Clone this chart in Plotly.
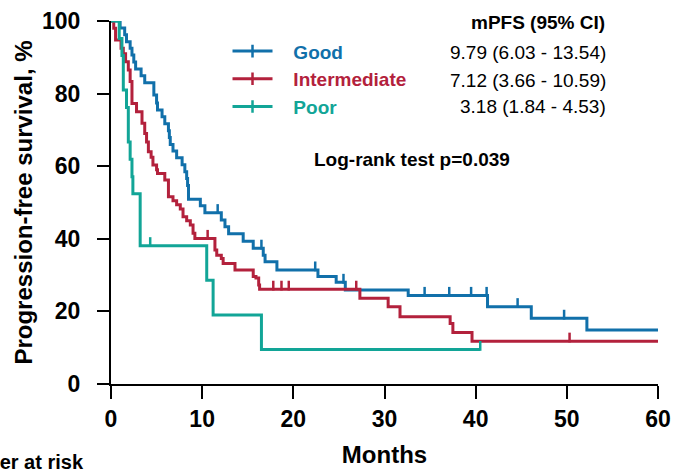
import numpy as np
import plotly.graph_objects as go

# ---------------- data ----------------
good_t = [0, 1.0, 1.5, 1.7, 2.1, 2.3, 2.5, 2.7, 3.3, 3.7, 4.7, 5.0, 5.1, 5.6, 5.9, 6.3, 6.4, 6.5,
          6.8, 7.2, 7.8, 8.1, 8.3, 8.4, 8.5, 9.8, 10.3, 12.1, 12.5, 12.9, 14.5, 15.6, 16.7, 16.9,
          18.2, 22.7, 24.7, 25.7, 32.6, 41.3, 46.1, 52.2, 60]
good_s = [100, 98.1, 96.2, 94.3, 92.5, 90.6, 88.7, 86.8, 84.9, 83.0, 79.6, 77.4, 75.5, 73.6,
          71.7, 69.8, 67.9, 66.0, 64.2, 62.3, 60.4, 58.5, 56.6, 54.7, 50.9, 49.1, 47.2, 45.2,
          43.3, 41.4, 39.3, 37.4, 35.5, 33.7, 31.4, 29.6, 28.0, 25.9, 24.4, 21.3, 18.1, 14.9, 14.9]
good_cens = [11.7, 16.5, 22.4, 25.5, 34.4, 37.1, 39.5, 41.2, 44.6, 49.7]

inter_t = [0, 0.3, 0.5, 1.1, 1.35, 1.6, 1.9, 2.1, 2.3, 2.8, 3.4, 3.7, 3.9, 4.1, 4.4, 4.6, 5.0,
           5.1, 5.9, 6.3, 6.8, 7.2, 7.6, 7.9, 8.3, 8.7, 9.0, 9.2, 11.4, 11.6, 12.1, 12.3, 13.6,
           15.6, 15.9, 16.2, 16.3, 27.3, 30.4, 31.7, 37.2, 37.5, 39.6, 60]
inter_s = [100, 98.0, 94.8, 92.5, 91.0, 88.8, 86.5, 83.3, 77.3, 75.0, 71.8, 69.0, 66.7, 64.0,
           62.5, 60.3, 59.0, 58.0, 56.2, 51.6, 50.5, 49.4, 48.2, 46.1, 45.0, 43.8, 41.5, 40.1,
           36.9, 35.5, 34.6, 33.2, 31.4, 29.6, 29.2, 27.3, 26.1, 23.6, 21.3, 18.5, 16.7, 14.2,
           11.8, 11.8]
inter_cens = [10.6, 17.8, 18.7, 19.5, 26.9, 50.3]

poor_t = [0, 0.9, 1.2, 1.35, 1.7, 1.9, 2.1, 2.3, 2.4, 3.2, 10.5, 11.2, 16.5, 40.5]
poor_s = [100, 95.2, 90.5, 81.0, 76.2, 66.7, 61.9, 57.1, 52.4, 38.1, 28.6, 19.0, 9.5, 9.5]
poor_cens = [4.3, 40.5]

groups = ["Good", "Intermediate", "Poor"]
mpfs = ["9.79 (6.03 - 13.54)", "7.12 (3.66 - 10.59)", "3.18 (1.84 - 4.53)"]
colors = ["#1170aa", "#b3213c", "#12a597"]
x_ticks = [0, 10, 20, 30, 40, 50, 60]
y_ticks = [0, 20, 40, 60, 80, 100]

FONT = "Liberation Sans, Arial, sans-serif"


def surv_at(t, s, times):
    t = np.asarray(t)
    s = np.asarray(s)
    idx = np.searchsorted(t, np.asarray(times), side="right") - 1
    return s[idx]


fig = go.Figure()
series = [(good_t, good_s, good_cens), (inter_t, inter_s, inter_cens), (poor_t, poor_s, poor_cens)]
for (t, s, c), name, col in zip(series, groups, colors):
    fig.add_trace(go.Scatter(x=t, y=s, mode="lines", line=dict(color=col, width=3, shape="hv"),
                             showlegend=False, cliponaxis=False, legendgroup=name))
    cy = surv_at(t, s, c) + 1.0
    fig.add_trace(go.Scatter(x=c, y=cy, mode="markers", showlegend=False, cliponaxis=False,
                             legendgroup=name,
                             marker=dict(symbol="line-ns", size=7,
                                         line=dict(color=col, width=2.5))))
# legend entries
for name, col in zip(groups, colors):
    fig.add_trace(go.Scatter(x=[None], y=[None], mode="lines+markers", legendgroup=name,
                             name=f"\u00a0\u00a0\u00a0<span style='color:{col}'><b>{name}</b></span>",
                             line=dict(color=col, width=3),
                             marker=dict(symbol="line-ns", size=9,
                                         line=dict(color=col, width=2.5))))

ann = []
ann.append(dict(text="<b>mPFS (95% CI)</b>", x=0.9068, y=0.9945, xref="paper", yref="paper",
                xanchor="right", yanchor="middle", showarrow=False,
                font=dict(size=19, color="black", family=FONT)))
for txt, yy in zip(mpfs, [0.9127, 0.8355, 0.7631]):
    ann.append(dict(text=txt, x=0.9086, y=yy, xref="paper", yref="paper",
                    xanchor="right", yanchor="middle", showarrow=False,
                    font=dict(size=19, color="black", family=FONT)))
ann.append(dict(text="<b>Log-rank test p=0.039</b>", x=0.5503, y=0.6198, xref="paper",
                yref="paper", xanchor="center", yanchor="middle", showarrow=False,
                font=dict(size=19, color="black", family=FONT)))
ann.append(dict(text="<b>Number at risk</b>", x=-0.046, y=-0.215, xref="paper", yref="paper",
                xanchor="right", yanchor="middle", showarrow=False,
                font=dict(size=20, color="black", family=FONT)))

fig.update_layout(
    width=673, height=469,
    margin=dict(l=111, r=15, t=21, b=85, autoexpand=False),
    paper_bgcolor="white", plot_bgcolor="white",
    font=dict(family=FONT, color="black"),
    showlegend=True,
    legend=dict(x=0.213, y=0.969, xanchor="left", yanchor="top", bgcolor="rgba(0,0,0,0)",
                itemwidth=40, tracegroupgap=0, font=dict(size=19, family=FONT)),
    annotations=ann,
    xaxis=dict(range=[0, 60], tickvals=x_ticks, ticks="outside", ticklen=13, tickwidth=2,
               tickcolor="black", showline=True, linecolor="black", linewidth=2,
               showgrid=False, zeroline=False, automargin=False,
               tickfont=dict(size=23, family=FONT, weight="bold"),
               title=dict(text="<b>Months</b>", font=dict(size=24, family=FONT), standoff=16)),
    yaxis=dict(range=[0, 100], tickvals=y_ticks, ticks="outside", ticklen=12, tickwidth=2,
               tickcolor="black", showline=True, linecolor="black", linewidth=2,
               showgrid=False, zeroline=False, automargin=False, ticklabelstandoff=12,
               tickfont=dict(size=23, family=FONT, weight="bold"),
               title=dict(text="<b>Progression-free survival, %</b>",
                          font=dict(size=24, family=FONT), standoff=3)),
)

fig.write_html("out.html", config={"displayModeBar": False},
               post_script="document.body.style.margin='0px';")
